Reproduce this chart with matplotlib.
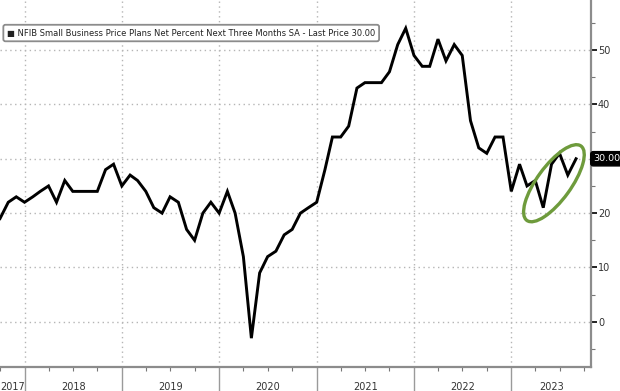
import matplotlib
matplotlib.use("Agg")
import matplotlib.pyplot as plt
import matplotlib.dates as mdates
from matplotlib.patches import Ellipse
from matplotlib.transforms import IdentityTransform
import numpy as np
import pandas as pd

# NFIB price plans, monthly, Oct 2017 - Sep 2023
start_month = "2017-10-01"
values = [
    19, 22, 23,                                        # 2017 Q4
    22, 23, 24, 25, 22, 26, 24, 24, 24, 24, 28, 29,    # 2018
    25, 27, 26, 24, 21, 20, 23, 22, 17, 15, 20, 22,    # 2019
    20, 24, 20, 12, -3, 9, 12, 13, 16, 17, 20, 21,     # 2020
    22, 28, 34, 34, 36, 43, 44, 44, 44, 46, 51, 54,    # 2021
    49, 47, 47, 52, 48, 51, 49, 37, 32, 31, 34, 34,    # 2022
    24, 29, 25, 26, 21, 29, 31, 27, 30,                # 2023
]
years = [2017, 2018, 2019, 2020, 2021, 2022, 2023]
y_ticks = [0, 10, 20, 30, 40, 50]
series_label = "NFIB Small Business Price Plans Net Percent Next Three Months SA - Last Price 30.00"
last_label = "30.00"

dates = pd.date_range(start_month, periods=len(values), freq="MS")

fig = plt.figure(figsize=(6.2, 3.91), dpi=100)
ax = fig.add_axes([0.0, 0.0614, 0.9532, 0.9386])

ax.plot(dates, values, color="black", lw=2.1, solid_joinstyle="miter", zorder=3)

x0 = mdates.date2num(pd.Timestamp("2017-10-01"))
x1 = mdates.date2num(pd.Timestamp("2023-10-27"))
ax.set_xlim(x0, x1)
ax.set_ylim(-8.3, 59.2)

# axes / spines
for s in ["top", "left"]:
    ax.spines[s].set_visible(False)
for s in ["right", "bottom"]:
    ax.spines[s].set_color("#8c8c8c")
    ax.spines[s].set_linewidth(1.6)

ax.yaxis.tick_right()
ax.set_yticks(y_ticks)
# the last-price tag sits on top of the 30 label
ax.set_yticklabels(["" if t == values[-1] else str(t) for t in y_ticks])
ax.set_yticks(np.arange(-5, 60, 5), minor=True)
ax.tick_params(axis="y", which="major", length=4, width=1.4, color="#222222",
               labelsize=7, labelcolor="#333333", pad=1)
ax.tick_params(axis="y", which="minor", length=3, width=0.8, color="#777777")

# year separators and quarter ticks
year_starts = [mdates.date2num(pd.Timestamp(f"{y}-01-01")) for y in years[1:]]
ax.set_xticks(year_starts)
ax.set_xticklabels([])
ax.set_xticks([mdates.date2num(d) for d in pd.date_range("2017-10-01", "2023-10-01", freq="QS")],
              minor=True)
ax.tick_params(axis="x", which="major", length=26, width=1.0, color="#9a9a9a")
ax.tick_params(axis="x", which="minor", length=3, width=0.8, color="#777777")

for y in years:
    a = max(x0, mdates.date2num(pd.Timestamp(f"{y}-01-01")))
    b = min(x1, mdates.date2num(pd.Timestamp(f"{y + 1}-01-01")))
    ax.text((a + b) / 2, -0.055, str(y), transform=ax.get_xaxis_transform(),
            ha="center", va="center", fontsize=7, color="#333333", clip_on=False)

ax.grid(True, which="major", axis="both", color="#b5b5b5", lw=1.0, ls=(0, (1, 2.5)))

# legend box
ax.text(0.012, 0.91, "\u25a0 " + series_label, transform=ax.transAxes,
        ha="left", va="center", fontsize=6.0, color="#222222",
        bbox=dict(boxstyle="round,pad=0.45,rounding_size=0.25", fc="white",
                  ec="#8c8c8c", lw=1.3), zorder=5)

# last price tag
ax.text(1.004, values[-1], last_label, transform=ax.get_yaxis_transform(),
        ha="left", va="center", fontsize=6.8, color="white", clip_on=False,
        bbox=dict(boxstyle="round,pad=0.28", fc="black", ec="black"), zorder=6)

# green highlight ellipse, drawn in pixel space so the tilt stays exact
cx = mdates.date2num(pd.Timestamp("2023-06-10"))
px, py = ax.transData.transform((cx, 25.5))
green = Ellipse((px, py), width=92, height=34, angle=54, transform=IdentityTransform(),
                fill=False, ec="#6e9b3c", lw=2.4, zorder=4)
fig.patches.append(green)

fig.savefig("out.png", dpi=100)
